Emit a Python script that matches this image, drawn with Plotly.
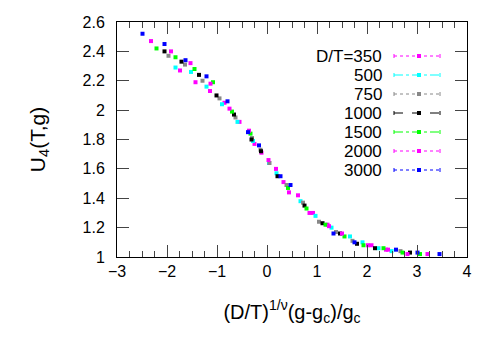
import plotly.graph_objects as go

# scaled data: x = (D/T)^(1/nu) (g-gc)/gc, y = U4
labels = ["D/T=350", "500", "750", "1000", "1500", "2000", "3000"]
colors = ["#ff00ff", "#00ffff", "#888888", "#000000", "#00ff00", "#ff00ff", "#0000ff"]
dashes = ["dot", "dashdot", "dot", "dash", "dashdot", "dot", "dot"]

x350 = [-1.74, -1.43, -1.14, -0.85, -0.55, -0.25, -0.11, 0.18, 0.33, 0.62, 0.92, 1.21, 2.09, 2.38]
y350 = [2.27, 2.19, 2.13, 2.05, 1.92, 1.77, 1.71, 1.60, 1.51, 1.42, 1.30, 1.22, 1.08, 1.05]
x500 = [-1.83, -1.52, -1.21, -0.90, -0.59, -0.28, 0.04, 0.19, 0.67, 0.97, 1.29, 1.66, 1.91, 2.23, 2.49]
y500 = [2.29, 2.26, 2.16, 2.04, 1.92, 1.79, 1.64, 1.57, 1.38, 1.28, 1.20, 1.14, 1.10, 1.06, 1.04]
x750 = [-1.97, -1.64, -1.29, -0.95, -0.63, -0.30, -0.13, 0.05, 0.39, 0.72, 1.04, 1.38, 1.71, 2.67]
y750 = [2.37, 2.31, 2.20, 2.08, 1.95, 1.81, 1.73, 1.64, 1.49, 1.37, 1.24, 1.17, 1.11, 1.04]
x1000 = [-2.05, -1.71, -1.36, -1.01, -0.66, -0.31, -0.12, 0.21, 0.75, 1.11, 1.46, 1.80, 2.16, 2.86]
y1000 = [2.40, 2.33, 2.24, 2.10, 1.97, 1.80, 1.72, 1.55, 1.35, 1.23, 1.16, 1.09, 1.06, 1.03]
x1500 = [-2.21, -1.83, -1.45, -1.08, -0.70, -0.33, 0.42, 0.79, 1.17, 1.55, 1.93, 2.33, 2.71, 3.06]
y1500 = [2.42, 2.36, 2.28, 2.19, 1.99, 1.84, 1.47, 1.33, 1.22, 1.14, 1.08, 1.06, 1.03, 1.02]
x2000 = [-2.32, -1.92, -1.53, -1.13, -0.75, -0.36, 0.03, 0.44, 0.85, 1.24, 1.50, 2.02, 2.42, 2.81, 3.21]
y2000 = [2.47, 2.40, 2.32, 2.18, 2.01, 1.86, 1.66, 1.44, 1.30, 1.21, 1.16, 1.08, 1.05, 1.02, 1.02]
x3000 = [-2.49, -2.05, -1.63, -1.21, -0.79, -0.38, -0.16, 0.27, 0.47, 1.33, 1.75, 2.58, 3.01, 3.45]
y3000 = [2.52, 2.45, 2.34, 2.23, 2.06, 1.85, 1.76, 1.55, 1.49, 1.16, 1.10, 1.05, 1.03, 1.02]

xs = [x350, x500, x750, x1000, x1500, x2000, x3000]
ys = [y350, y500, y750, y1000, y1500, y2000, y3000]

fig = go.Figure()
for lab, c, xv, yv in zip(labels, colors, xs, ys):
    fig.add_trace(go.Scatter(x=xv, y=yv, mode="markers", name=lab, showlegend=False,
                             marker=dict(symbol="square", size=4, color=c, line=dict(width=0))))

# gnuplot-style key: label, then line sample with point and bar ends
W, H = 350, 235
key_x0, key_x1, key_xm, key_text = (394 - 117) / W, (440 - 117) / W, (419 - 117) / W, (384 - 117) / W
for i, (lab, c, d) in enumerate(zip(labels, colors, dashes)):
    yk = (257 - 56 - 19 * i) / H
    fig.add_annotation(x=key_text, y=yk, xref="paper", yref="paper", text=lab, showarrow=False,
                       xanchor="right", yanchor="middle", font=dict(size=17, color="black"))
    fig.add_shape(type="line", xref="paper", yref="paper", x0=key_x0, x1=key_x1, y0=yk, y1=yk,
                  line=dict(color=c, width=1, dash=d))
    for xe in (key_x0, key_x1):
        fig.add_shape(type="line", xref="paper", yref="paper", x0=xe, x1=xe,
                      y0=yk - 2 / H, y1=yk + 2 / H, line=dict(color=c, width=1))
    fig.add_shape(type="rect", xref="paper", yref="paper", x0=key_xm - 2 / W, x1=key_xm + 2 / W,
                  y0=yk - 2 / H, y1=yk + 2 / H, fillcolor=c, line=dict(width=0))

axis_common = dict(showline=True, linecolor="black", linewidth=1, mirror="allticks",
                   ticks="inside", ticklen=12, tickcolor="#444", tickwidth=1,
                   showgrid=False, zeroline=False, tickfont=dict(size=16, color="black"))

fig.update_xaxes(range=[-3, 4], dtick=1, tick0=-3,
                 minor=dict(dtick=0.25, ticks="inside", ticklen=6, tickcolor="#444", showgrid=False),
                 title=dict(text="(D/T)<sup>1/ν</sup>(g-g<sub>c</sub>)/g<sub>c</sub>",
                            font=dict(size=20, color="black"), standoff=25),
                 **axis_common)
fig.update_yaxes(range=[1, 2.6], dtick=0.2, tick0=1, ticklabelstandoff=8,
                 title=dict(text="U<sub>4</sub>(T,g)", font=dict(size=21, color="black"), standoff=31),
                 **axis_common)

# the page body adds an 8px offset, so margins are shifted to keep the frame in place
fig.update_layout(width=494, height=346, template="plotly_white",
                  plot_bgcolor="white", paper_bgcolor="white",
                  font=dict(family="Liberation Sans, Arial, sans-serif", color="black"),
                  margin=dict(l=109, r=35, t=14, b=97, autoexpand=False))

fig.write_html("out.html")
